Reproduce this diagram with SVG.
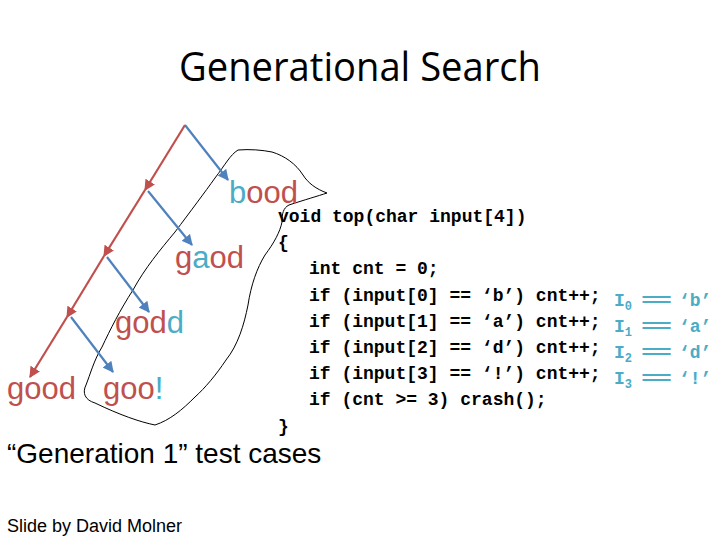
<svg xmlns="http://www.w3.org/2000/svg" width="720" height="540" viewBox="0 0 720 540">
<defs>
<marker id="ar" viewBox="0 0 10 10" refX="9" refY="5" markerWidth="5" markerHeight="5" orient="auto" markerUnits="strokeWidth"><path d="M0,0 L10,5 L0,10 z" fill="#c0504d"/></marker>
<marker id="ab" viewBox="0 0 10 10" refX="9" refY="5" markerWidth="5" markerHeight="5" orient="auto" markerUnits="strokeWidth"><path d="M0,0 L10,5 L0,10 z" fill="#4f81bd"/></marker>
<style>
.red{stroke:#c0504d;stroke-width:2.2;fill:none;marker-end:url(#ar)}
.blue{stroke:#4f81bd;stroke-width:2.2;fill:none;marker-end:url(#ab)}
.w{font-family:"Liberation Sans",Arial,sans-serif;font-size:31px;fill:#c0504d}
.t{fill:#4bacc6}
.code{font-family:"Liberation Mono","Courier New",monospace;font-weight:bold;font-size:18px;fill:#000;white-space:pre}
.eq{font-family:"Liberation Mono","Courier New",monospace;font-weight:bold;font-size:18px;fill:#4bacc6;white-space:pre}
.sub{font-size:12px}
</style>
</defs>
<rect width="720" height="540" fill="#fff"/>
<text x="360" y="81" text-anchor="middle" font-family="Open Sans, sans-serif" font-size="40" textLength="362" lengthAdjust="spacingAndGlyphs">Generational Search</text>

<path id="outline" d="M238,150 C250,149 262,150 272,152 C285,156 296,164 303,175 C308,183 316,189 327,193 C318,196 304,200 289,205 C283,208 282,214 282,222 C280,232 274,243 265,255 C257,268 251,285 248,305 C244,325 238,345 226,360 C216,375 205,388 195,397 C182,410 170,420 155,425 C140,422 120,415 95,403 C85,400 82,393 86,385 C90,375 94,360 102,347 C110,330 120,310 133,290 C145,268 160,250 175,232 C190,212 205,192 215,178 C225,165 230,155 238,150 Z" fill="none" stroke="#000" stroke-width="1"/>

<g id="connectors">
<line class="red" x1="185" y1="125" x2="145" y2="190"/>
<line class="red" x1="145" y1="190" x2="104" y2="256"/>
<line class="red" x1="104" y1="256" x2="67" y2="317"/>
<line class="red" x1="67" y1="317" x2="30" y2="377"/>
<line class="blue" x1="185" y1="125" x2="228" y2="180"/>
<line class="blue" x1="148" y1="191" x2="192" y2="245"/>
<line class="blue" x1="107" y1="257" x2="149" y2="312"/>
<line class="blue" x1="71" y1="317" x2="113" y2="372"/>
</g>

<g id="n-bood"><text class="w" x="229" y="203"><tspan class="t">b</tspan>ood</text></g>
<g id="n-gaod"><text class="w" x="175" y="268">g<tspan class="t">a</tspan>od</text></g>
<g id="n-godd"><text class="w" x="115" y="333">god<tspan class="t">d</tspan></text></g>
<g id="n-good"><text class="w" x="7" y="399">good</text></g>
<g id="n-goo"><text class="w" x="103" y="399">goo<tspan class="t">!</tspan></text></g>

<g id="code">
<text class="code" x="278" y="222">void top(char input[4])</text>
<text class="code" x="278" y="248">{</text>
<text class="code" x="309" y="274">int cnt = 0;</text>
<text class="code" x="309" y="301">if (input[0] == ‘b’) cnt++;</text>
<text class="code" x="309" y="327">if (input[1] == ‘a’) cnt++;</text>
<text class="code" x="309" y="353">if (input[2] == ‘d’) cnt++;</text>
<text class="code" x="309" y="379">if (input[3] == ‘!’) cnt++;</text>
<text class="code" x="309" y="405">if (cnt &gt;= 3) crash();</text>
<text class="code" x="278" y="432">}</text>
</g>

<g id="constraints">
<text class="eq" x="614" y="306">I<tspan class="sub" dy="4">0</tspan></text>
<text class="eq" x="614" y="332">I<tspan class="sub" dy="4">1</tspan></text>
<text class="eq" x="614" y="358">I<tspan class="sub" dy="4">2</tspan></text>
<text class="eq" x="614" y="384">I<tspan class="sub" dy="4">3</tspan></text>
<text class="eq" x="641" y="306" textLength="26" lengthAdjust="spacingAndGlyphs" letter-spacing="-3">==</text>
<text class="eq" x="641" y="332" textLength="26" lengthAdjust="spacingAndGlyphs" letter-spacing="-3">==</text>
<text class="eq" x="641" y="358" textLength="26" lengthAdjust="spacingAndGlyphs" letter-spacing="-3">==</text>
<text class="eq" x="641" y="384" textLength="26" lengthAdjust="spacingAndGlyphs" letter-spacing="-3">==</text>
<text class="eq" x="679" y="306">‘b’</text>
<text class="eq" x="679" y="332">‘a’</text>
<text class="eq" x="679" y="358">‘d’</text>
<text class="eq" x="679" y="384">‘!’</text>
</g>

<text x="7" y="463" font-family="Liberation Sans, Arial, sans-serif" font-size="28">“Generation 1” test cases</text>
<text x="7" y="532" font-family="Liberation Sans, Arial, sans-serif" font-size="18">Slide by David Molner</text>
</svg>
